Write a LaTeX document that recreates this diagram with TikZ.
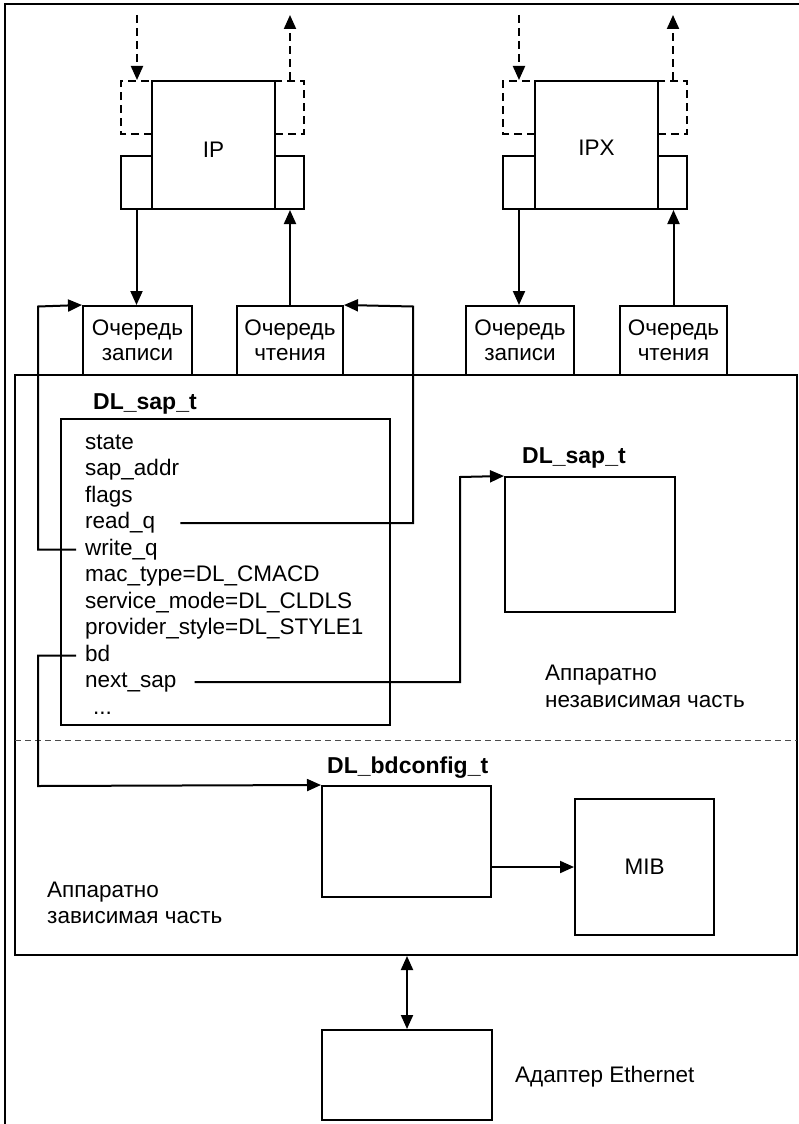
\documentclass[tikz,border=0pt]{standalone}
\usepackage{fontspec}
\setmainfont{Liberation Sans}
\usetikzlibrary{arrows.meta}
\begin{document}
\begin{tikzpicture}[x=1pt,y=-1pt,
  every node/.style={font=\fontsize{22.5}{25}\selectfont},
  box/.style={draw, line width=2pt, inner sep=0pt},
  ln/.style={line width=2pt},
  tip/.tip={Triangle[length=14pt,width=12pt]},
  arr/.style={ln, -tip},
  darr/.style={arr, dash pattern=on 8pt off 5pt},
  dbox/.style={line width=2pt, dash pattern=on 8pt off 5pt},
  field/.style={anchor=west, inner sep=0pt, text height=16pt, text depth=5pt},
  title/.style={anchor=base west, inner sep=0pt, font=\fontsize{23}{27}\selectfont\bfseries},
  plain/.style={anchor=base west, inner sep=0pt},
  sep/.style={line width=1pt, dash pattern=on 6pt off 4pt, black!70},
]
\useasboundingbox (0,0) rectangle (799,1124);

% outer frame
\draw[line width=1.5pt] (799,4) -- (5,4) -- (5,1124);

% protocol modules with their ports
\node[box, minimum width=123pt, minimum height=128pt] (ip) at (213.5,145) {};
\node (iplabel) at (213.5,150) {IP};
\node[box, minimum width=31pt, minimum height=53pt] (ipwp) at (136.5,182.5) {};
\node[box, minimum width=29pt, minimum height=53pt] (iprp) at (289.5,182.5) {};
\draw[dbox] (152,134) -- (121,134) -- (121,81) -- (152,81);
\draw[dbox] (275,134) -- (304,134) -- (304,81) -- (275,81);

\node[box, minimum width=123pt, minimum height=128pt] (ipx) at (596.5,145) {};
\node (ipxlabel) at (596.5,148) {IPX};
\node[box, minimum width=32pt, minimum height=53pt] (ipxwp) at (519,182.5) {};
\node[box, minimum width=29pt, minimum height=53pt] (ipxrp) at (672.5,182.5) {};
\draw[dbox] (535,134) -- (503,134) -- (503,81) -- (535,81);
\draw[dbox] (658,134) -- (687,134) -- (687,81) -- (658,81);

% upper-layer dashed links
\coordinate (ipin) at (137,15);
\coordinate (ipout) at (290,15);
\coordinate (ipxin) at (519,15);
\coordinate (ipxout) at (673,15);
\draw[darr] (ipin) -- (ipin |- ip.north);
\draw[darr] (ipout |- ip.north) -- (ipout);
\draw[darr] (ipxin) -- (ipxin |- ipx.north);
\draw[darr] (ipxout |- ipx.north) -- (ipxout);

% main driver box
\node[box, minimum width=782pt, minimum height=580pt] (main) at (406,665) {};
\draw[sep] (15,740) -- (797,740);

% queues
\node[box, minimum width=109pt, minimum height=69pt, align=center] (qw1) at (137.5,340.5) {Очередь\\записи};
\node[box, minimum width=106pt, minimum height=69pt, align=center] (qr1) at (290,340.5) {Очередь\\чтения};
\node[box, minimum width=108pt, minimum height=69pt, align=center] (qw2) at (520,340.5) {Очередь\\записи};
\node[box, minimum width=107pt, minimum height=69pt, align=center] (qr2) at (673.5,340.5) {Очередь\\чтения};

\draw[arr] (ipwp.south) -- (ipwp.south |- qw1.north);
\draw[arr] (qr1.north) -- (qr1.north |- iprp.south);
\draw[arr] (ipxwp.south) -- (ipxwp.south |- qw2.north);
\draw[arr] (qr2.north) -- (qr2.north |- ipxrp.south);

% DL_sap_t structure
\node[title] (saptitle) at (93,409) {DL\_sap\_t};
\node[box, minimum width=329pt, minimum height=306pt] (sap) at (225.5,572) {};
\node[field] (state) at (85,443.5) {state};
\node[field] (sapaddr) at (85,470) {sap\_addr};
\node[field] (flags) at (85,496.5) {flags};
\node[field] (readq) at (85,523) {read\_q};
\node[field] (writeq) at (85,549.5) {write\_q};
\node[field] (mactype) at (85,576) {mac\_type=DL\_CMACD};
\node[field] (svcmode) at (85,602.5) {service\_mode=DL\_CLDLS};
\node[field] (provstyle) at (85,629) {provider\_style=DL\_STYLE1};
\node[field] (bd) at (85,655.5) {bd};
\node[field] (nextsap) at (85,682) {next\_sap};
\node[field] (more) at (93,708.5) {...};

% next DL_sap_t
\node[title] (sap2title) at (522,463) {DL\_sap\_t};
\node[box, minimum width=170pt, minimum height=135pt] (sap2) at (590,544.5) {};

\node[plain] (indep1) at (545,680) {Аппаратно};
\node[plain] (indep2) at (545,707) {независимая часть};

% hardware dependent part
\node[title] (cfgtitle) at (327,773) {DL\_bdconfig\_t};
\node[box, minimum width=169pt, minimum height=111pt] (cfg) at (406.5,841.5) {};
\node[box, minimum width=139pt, minimum height=136pt] (mib) at (644.5,867) {MIB};
\node[plain] (dep1) at (47,897) {Аппаратно};
\node[plain] (dep2) at (47,923) {зависимая часть};

% adapter
\node[box, minimum width=170pt, minimum height=90pt] (adapter) at (407,1075) {};
\node[plain] (adlabel) at (515,1082) {Адаптер Ethernet};

% pointers
\coordinate (rqturn) at (413,306.5);
\coordinate (wqturn) at (38,306.5);
\coordinate (bdturn) at (38,786);
\coordinate (nsturn) at (460,477);
\draw[arr] ([xshift=25pt]readq.east) -| (rqturn) -- (qr1.north east);
\draw[arr] ([xshift=-9pt]writeq.west) -| (wqturn) -- (qw1.north west);
\draw[arr] ([xshift=-9pt]bd.west) -| (bdturn) -- (cfg.north west);
\draw[arr] ([xshift=18pt]nextsap.east) -| (nsturn) -- (sap2.north west);
\draw[arr] (cfg.east |- mib.west) -- (mib.west);
\draw[ln, tip-tip] (adapter.north |- main.south) -- (adapter.north);
\end{tikzpicture}
\end{document}
